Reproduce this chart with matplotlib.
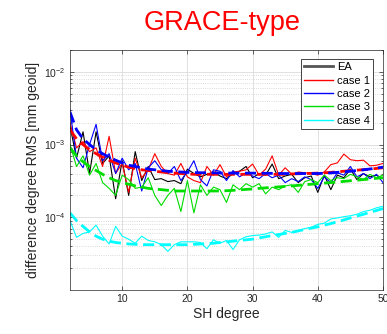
import numpy as np
import matplotlib
matplotlib.use('Agg')
import matplotlib.pyplot as plt
from matplotlib.lines import Line2D
from matplotlib.ticker import LogLocator, NullFormatter

####################################################################################

plt.rcParams['font.family'] = ['Liberation Sans', 'DejaVu Sans']
plt.rcParams['mathtext.fontset'] = 'custom'
plt.rcParams['mathtext.rm'] = 'Liberation Sans'
plt.rcParams['mathtext.default'] = 'regular'

FIGURE_XSIZE = 3.87
FIGURE_YSIZE = 3.34
DPI = 100

AXES_RGB = '#262626'
MAJOR_GRID_RGB = '#dcdcdc'
MINOR_GRID_RGB = '#cfcfcf'

####################################################################################
# data: degree RMS per SH degree (2..50)

degrees = list(range(2, 51))

ea = [1.8e-3, 6.5e-4, 1.5e-3, 4.0e-4, 1.5e-3, 5.5e-4, 7.0e-4, 1.8e-4, 6.0e-4, 2.0e-4,
      8.0e-4, 3.2e-4, 5.0e-4, 3.3e-4, 3.4e-4, 3.1e-4, 3.2e-4, 2.9e-4, 4.6e-4, 4.0e-4,
      3.6e-4, 3.9e-4, 4.2e-4, 3.7e-4, 3.4e-4, 4.0e-4, 4.3e-4, 5.0e-4, 3.5e-4, 4.0e-4,
      3.8e-4, 5.4e-4, 3.4e-4, 3.7e-4, 3.9e-4, 3.0e-4, 3.5e-4, 3.7e-4, 2.2e-4, 3.8e-4,
      2.4e-4, 3.8e-4, 3.5e-4, 4.6e-4, 3.3e-4, 4.0e-4, 3.6e-4, 3.8e-4, 3.4e-4]

case1 = [2.0e-3, 9.0e-4, 1.1e-3, 8.0e-4, 9.0e-4, 5.0e-4, 1.3e-3, 4.0e-4, 5.5e-4, 2.2e-4,
         6.5e-4, 3.5e-4, 4.5e-4, 7.5e-4, 5.0e-4, 4.0e-4, 3.8e-4, 5.5e-4, 3.6e-4, 3.2e-4,
         3.0e-4, 5.0e-4, 3.8e-4, 5.3e-4, 3.6e-4, 4.2e-4, 4.3e-4, 4.5e-4, 5.4e-4, 3.8e-4,
         4.6e-4, 7.0e-4, 3.8e-4, 4.8e-4, 3.9e-4, 4.2e-4, 4.1e-4, 4.0e-4, 3.8e-4, 4.2e-4,
         5.3e-4, 5.6e-4, 7.4e-4, 6.2e-4, 6.0e-4, 6.1e-4, 5.1e-4, 5.2e-4, 5.5e-4]

case2 = [3.0e-3, 6.5e-4, 4.8e-4, 1.0e-3, 1.9e-3, 6.0e-4, 7.5e-4, 4.0e-4, 6.5e-4, 4.5e-4,
         5.5e-4, 2.3e-4, 4.8e-4, 6.0e-4, 4.5e-4, 4.0e-4, 5.0e-4, 3.2e-4, 4.2e-4, 6.0e-4,
         3.3e-4, 2.7e-4, 4.5e-4, 4.3e-4, 3.2e-4, 4.4e-4, 3.6e-4, 4.1e-4, 3.7e-4, 3.4e-4,
         4.0e-4, 3.5e-4, 3.8e-4, 3.0e-4, 3.4e-4, 3.1e-4, 3.6e-4, 3.3e-4, 2.5e-4, 3.6e-4,
         3.0e-4, 4.1e-4, 3.8e-4, 5.0e-4, 3.6e-4, 4.0e-4, 3.4e-4, 3.9e-4, 3.0e-4]

case3 = [1.0e-3, 5.0e-4, 7.0e-4, 3.8e-4, 5.5e-4, 3.0e-4, 2.5e-4, 2.0e-4, 3.8e-4, 3.3e-4,
         2.5e-4, 2.6e-4, 3.5e-4, 2.0e-4, 1.45e-4, 2.0e-4, 2.5e-4, 1.2e-4, 3.2e-4, 1.15e-4,
         2.8e-4, 2.0e-4, 2.6e-4, 2.4e-4, 1.6e-4, 2.8e-4, 2.4e-4, 2.9e-4, 2.6e-4, 2.9e-4,
         2.1e-4, 2.6e-4, 2.4e-4, 2.7e-4, 2.8e-4, 2.2e-4, 3.1e-4, 3.3e-4, 3.0e-4, 3.8e-4,
         3.2e-4, 3.5e-4, 3.4e-4, 3.9e-4, 3.6e-4, 3.3e-4, 3.9e-4, 3.5e-4, 3.8e-4]

case4 = [9.0e-5, 5.3e-5, 6.0e-5, 6.3e-5, 7.8e-5, 5.5e-5, 4.3e-5, 7.5e-5, 5.5e-5, 5.0e-5,
         4.4e-5, 5.5e-5, 4.8e-5, 4.6e-5, 4.2e-5, 3.4e-5, 4.2e-5, 4.6e-5, 4.6e-5, 4.6e-5,
         4.5e-5, 3.7e-5, 4.9e-5, 4.4e-5, 4.8e-5, 3.6e-5, 4.9e-5, 5.4e-5, 5.6e-5, 5.7e-5,
         5.9e-5, 6.3e-5, 5.3e-5, 6.6e-5, 6.2e-5, 6.5e-5, 7.0e-5, 7.3e-5, 8.0e-5, 8.3e-5,
         9.5e-5, 9.8e-5, 1.02e-4, 1.05e-4, 1.1e-4, 1.2e-4, 1.25e-4, 1.35e-4, 1.42e-4]

# smoothed (dashed) curves
case1_fit = [1.6e-3, 1.2e-3, 1.0e-3, 8.5e-4, 7.5e-4, 6.7e-4, 6.1e-4, 5.6e-4, 5.2e-4, 4.9e-4,
             4.7e-4, 4.5e-4, 4.4e-4, 4.3e-4, 4.2e-4, 4.1e-4, 4.05e-4, 4.0e-4, 3.95e-4, 3.9e-4,
             3.9e-4, 3.9e-4, 3.9e-4, 3.9e-4, 3.9e-4, 3.9e-4, 3.9e-4, 3.9e-4, 3.9e-4, 3.9e-4,
             3.9e-4, 3.9e-4, 3.9e-4, 3.9e-4, 3.95e-4, 3.97e-4, 4.0e-4, 4.02e-4, 4.05e-4, 4.1e-4,
             4.15e-4, 4.22e-4, 4.3e-4, 4.37e-4, 4.45e-4, 4.52e-4, 4.6e-4, 4.7e-4, 4.8e-4]

case2_fit = [2.8e-3, 1.6e-3, 1.2e-3, 1.0e-3, 8.5e-4, 7.5e-4, 6.7e-4, 6.1e-4, 5.6e-4, 5.2e-4,
             5.0e-4, 4.8e-4, 4.6e-4, 4.5e-4, 4.4e-4, 4.3e-4, 4.25e-4, 4.2e-4, 4.15e-4, 4.12e-4,
             4.1e-4, 4.1e-4, 4.08e-4, 4.07e-4, 4.06e-4, 4.05e-4, 4.05e-4, 4.05e-4, 4.05e-4, 4.04e-4,
             4.03e-4, 4.02e-4, 4.01e-4, 4.0e-4, 4.0e-4, 4.0e-4, 4.0e-4, 4.0e-4, 4.0e-4, 4.03e-4,
             4.08e-4, 4.15e-4, 4.22e-4, 4.3e-4, 4.4e-4, 4.5e-4, 4.62e-4, 4.75e-4, 4.9e-4]

case3_fit = [9.0e-4, 7.0e-4, 5.8e-4, 5.0e-4, 4.4e-4, 3.9e-4, 3.5e-4, 3.2e-4, 3.0e-4, 2.85e-4,
             2.7e-4, 2.6e-4, 2.5e-4, 2.45e-4, 2.4e-4, 2.35e-4, 2.3e-4, 2.3e-4, 2.3e-4, 2.3e-4,
             2.3e-4, 2.3e-4, 2.3e-4, 2.3e-4, 2.32e-4, 2.35e-4, 2.38e-4, 2.42e-4, 2.45e-4, 2.5e-4,
             2.54e-4, 2.58e-4, 2.62e-4, 2.66e-4, 2.7e-4, 2.75e-4, 2.8e-4, 2.85e-4, 2.9e-4, 2.95e-4,
             3.0e-4, 3.06e-4, 3.12e-4, 3.18e-4, 3.24e-4, 3.3e-4, 3.37e-4, 3.44e-4, 3.5e-4]

case4_fit = [1.15e-4, 9.0e-5, 7.5e-5, 6.3e-5, 5.5e-5, 5.0e-5, 4.7e-5, 4.5e-5, 4.4e-5, 4.3e-5,
             4.25e-5, 4.2e-5, 4.2e-5, 4.2e-5, 4.2e-5, 4.2e-5, 4.2e-5, 4.2e-5, 4.2e-5, 4.25e-5,
             4.3e-5, 4.35e-5, 4.4e-5, 4.5e-5, 4.6e-5, 4.7e-5, 4.8e-5, 4.9e-5, 5.0e-5, 5.2e-5,
             5.4e-5, 5.6e-5, 5.8e-5, 6.0e-5, 6.2e-5, 6.5e-5, 6.8e-5, 7.1e-5, 7.4e-5, 7.8e-5,
             8.2e-5, 8.7e-5, 9.2e-5, 9.8e-5, 1.04e-4, 1.1e-4, 1.17e-4, 1.24e-4, 1.32e-4]

series_labels = ['EA', 'case 1', 'case 2', 'case 3', 'case 4']
series_colors = ['#000000', '#ff0000', '#0000ff', '#00dd00', '#00ffff']

####################################################################################

def set_axis_properties(axes):
    axes.set_yscale('log')
    axes.set_xlim(2, 50)
    axes.set_ylim(1e-5, 2e-2)
    axes.set_xticks([10, 20, 30, 40, 50])
    axes.set_yticks([1e-4, 1e-3, 1e-2])
    axes.set_yticklabels(['$10^{-4}$', '$10^{-3}$', '$10^{-2}$'])
    axes.yaxis.set_minor_locator(LogLocator(base=10, subs=np.arange(2, 10)))
    axes.yaxis.set_minor_formatter(NullFormatter())
    axes.tick_params(which='both', direction='in', top=True, right=True,
                     colors=AXES_RGB, labelsize=7.5, pad=3)
    axes.tick_params(which='major', length=3, width=0.5)
    axes.tick_params(which='minor', length=1.5, width=0.5)
    for spine in axes.spines.values():
        spine.set_color(AXES_RGB)
        spine.set_linewidth(0.5)
    axes.grid(which='major', color=MAJOR_GRID_RGB, linewidth=0.6)
    axes.grid(which='minor', axis='y', color=MINOR_GRID_RGB, linestyle=':', linewidth=0.6)
    axes.set_axisbelow(True)

####################################################################################

figure = plt.figure(figsize=(FIGURE_XSIZE, FIGURE_YSIZE), dpi=DPI, facecolor='white')
axes = figure.add_axes([70 / 387, 1 - 290 / 334, 313 / 387, 240 / 334])
set_axis_properties(axes)

solids = [ea, case1, case2, case3, case4]
for values, color in zip(solids, series_colors):
    axes.plot(degrees, values, '-', color=color, linewidth=0.8)

fits = [case1_fit, case2_fit, case3_fit, case4_fit]
for values, color in zip(fits, series_colors[1:]):
    axes.plot(degrees, values, color=color, linewidth=2, dashes=(4, 2))

handles = [Line2D([], [], color='#555555', linewidth=2)]
handles += [Line2D([], [], color=c, linewidth=1) for c in series_colors[1:]]
legend = axes.legend(handles, series_labels, loc='upper right',
                     bbox_to_anchor=(0.968, 0.9625), borderaxespad=0,
                     fontsize=8, handlelength=2.6, handletextpad=0.3,
                     labelspacing=0.3, borderpad=0.3, fancybox=False,
                     framealpha=1, edgecolor=AXES_RGB)
legend.get_frame().set_linewidth(0.6)

axes.set_xlabel('SH degree', fontsize=10, color=AXES_RGB, labelpad=2)
axes.set_ylabel('difference degree RMS [mm geoid]', fontsize=10, color=AXES_RGB, labelpad=3)

figure.text(222 / 387, 1 - 30 / 334, 'GRACE-type', color='#ff0000', fontsize=19.5,
            ha='center', va='baseline')

plt.savefig('out.png', dpi=DPI)
